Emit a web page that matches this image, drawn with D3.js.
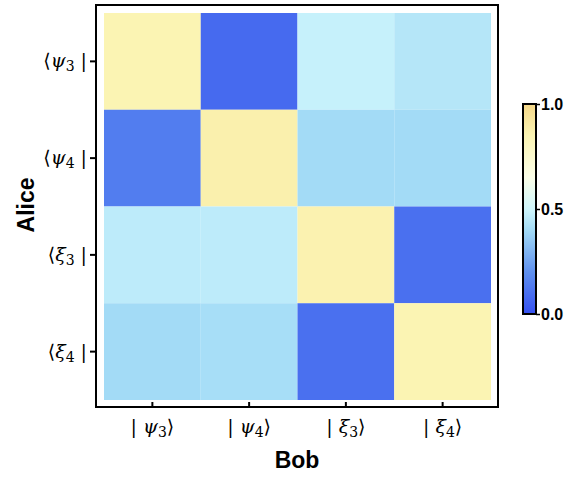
<!DOCTYPE html>
<html><head><meta charset="utf-8">
<script src="https://cdn.jsdelivr.net/npm/d3@7"></script>
<style>body{margin:0;background:#fff}svg{display:block}</style>
</head><body>
<svg id="c" width="582" height="477"></svg>
<script>
// Data
const rowSymbols = ["ψ", "ψ", "ξ", "ξ"];
const rowSubs = ["3", "4", "3", "4"];
const colSymbols = ["ψ", "ψ", "ξ", "ξ"];
const colSubs = ["3", "4", "3", "4"];
const rowIds = ["psi3", "psi4", "xi3", "xi4"];
const colIds = ["psi3", "psi4", "xi3", "xi4"];
const values = [
  [0.85, 0.08, 0.48, 0.44],
  [0.14, 0.87, 0.40, 0.40],
  [0.46, 0.46, 0.86, 0.10],
  [0.40, 0.41, 0.10, 0.85]
];
const cbTicks = [0.0, 0.5, 1.0];
const cmapStops = [0, 0.2, 0.4, 0.5, 0.65, 0.85, 1];
const cmapColors = ["#3550F0", "#5F90EE", "#A3DBF6", "#CFF6FC", "#FBFEE8", "#FBF4B3", "#F5D889"];

const svg = d3.select("#c");
const color = d3.scaleLinear().domain(cmapStops).range(cmapColors).interpolate(d3.interpolateRgb);
const x = d3.scaleBand().domain(colIds).range([104, 491]);
const y = d3.scaleBand().domain(rowIds).range([13, 400]);

const cells = [];
values.forEach((r, i) => r.forEach((v, j) => cells.push({r: rowIds[i], c: colIds[j], v})));
svg.append("g").selectAll("rect").data(cells).join("rect")
  .attr("x", d => x(d.c)).attr("y", d => y(d.r))
  .attr("width", x.bandwidth()).attr("height", y.bandwidth())
  .attr("fill", d => color(d.v));

// frame
svg.append("rect").attr("x", 96).attr("y", 5).attr("width", 402).attr("height", 402)
  .attr("fill", "none").attr("stroke", "#000").attr("stroke-width", 2);

const mathFont = "'DejaVu Serif', 'Liberation Serif', serif";
// x axis
const xa = svg.append("g").attr("transform", "translate(0,407)")
  .call(d3.axisBottom(x).tickSizeInner(-5).tickSizeOuter(0).tickFormat(""));
xa.select(".domain").remove();
xa.selectAll(".tick line").attr("stroke", "#000").attr("stroke-width", 2);
colIds.forEach((id, j) => {
  const t = svg.append("text").attr("x", x(id) + x.bandwidth() / 2).attr("y", 433)
    .attr("text-anchor", "middle").style("font-family", mathFont).style("font-size", "19px").attr("fill", "#000");
  t.append("tspan").text("| ");
  t.append("tspan").style("font-style", "italic").text(colSymbols[j]);
  t.append("tspan").style("font-size", "14px").attr("dy", 4).text(colSubs[j]);
  t.append("tspan").attr("dy", -4).text("⟩");
});

// y axis
const ya = svg.append("g").attr("transform", "translate(96,0)")
  .call(d3.axisLeft(y).tickSizeInner(6).tickSizeOuter(0).tickFormat(""));
ya.select(".domain").remove();
ya.selectAll(".tick line").attr("stroke", "#000").attr("stroke-width", 2);
rowIds.forEach((id, i) => {
  const t = svg.append("text").attr("x", 87).attr("y", y(id) + y.bandwidth() / 2 + 6)
    .attr("text-anchor", "end").style("font-family", mathFont).style("font-size", "19px").attr("fill", "#000");
  t.append("tspan").text("⟨");
  t.append("tspan").style("font-style", "italic").text(rowSymbols[i]);
  t.append("tspan").style("font-size", "14px").attr("dy", 4).text(rowSubs[i]);
  t.append("tspan").attr("dy", -4).text(" |");
});

// axis titles
svg.append("text").attr("x", 297).attr("y", 468).attr("text-anchor", "middle")
  .style("font-family", "'Liberation Sans', Arial, sans-serif").style("font-weight", "bold")
  .style("font-size", "23px").text("Bob");
svg.append("text").attr("transform", "translate(34,205) rotate(-90)").attr("text-anchor", "middle")
  .style("font-family", "'Liberation Sans', Arial, sans-serif").style("font-weight", "bold")
  .style("font-size", "23px").text("Alice");

// colorbar
const cb = d3.scaleLinear().domain([0, 1]).range([314, 104]);
const defs = svg.append("defs");
const grad = defs.append("linearGradient").attr("id", "cbg").attr("x1", 0).attr("y1", 1).attr("x2", 0).attr("y2", 0);
cmapStops.forEach((s, i) => grad.append("stop").attr("offset", s).attr("stop-color", cmapColors[i]));
svg.append("rect").attr("x", 523).attr("y", 104).attr("width", 13).attr("height", 210)
  .attr("fill", "url(#cbg)").attr("stroke", "#000").attr("stroke-width", 2);
const ca = svg.append("g").attr("transform", "translate(536,0)")
  .call(d3.axisRight(cb).tickValues(cbTicks).tickSize(4).tickFormat(d3.format(".1f")));
ca.select(".domain").remove();
ca.selectAll(".tick line").attr("stroke", "#000").attr("stroke-width", 1.5);
ca.selectAll(".tick text").attr("x", 5)
  .style("font-family", "'Liberation Sans', Arial, sans-serif")
  .style("font-weight", "bold").style("font-size", "16px").attr("fill", "#000");
</script>
</body></html>
